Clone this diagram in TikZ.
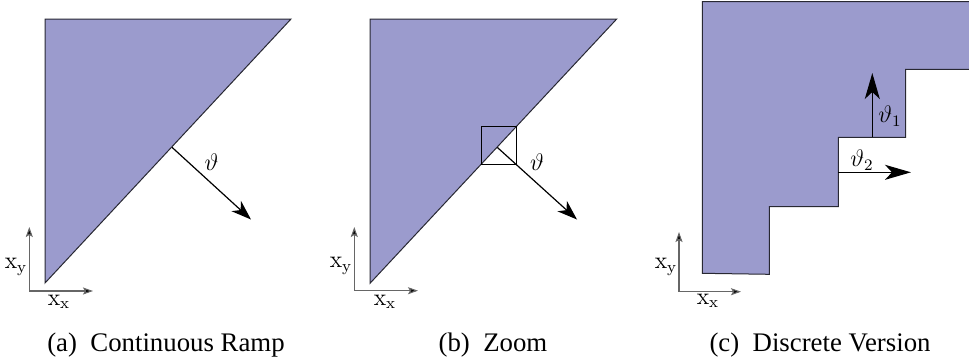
\documentclass[tikz,border=0pt]{standalone}
\usepackage{fontspec}
\newfontfamily\capfont{Liberation Serif}
\usetikzlibrary{arrows.meta}
\definecolor{rampfill}{RGB}{155,155,205}
\definecolor{edgecol}{RGB}{40,40,50}
\tikzset{
  region/.style={fill=rampfill,draw=edgecol,line width=0.5pt,line join=miter},
  axisline/.style={draw=black!60,line width=0.55pt,-{Stealth[length=5pt,width=3.5pt,inset=1pt,fill=black]}},
  thetaarrow/.style={draw=black,line width=0.6pt,-{Stealth[length=10pt,width=7pt,inset=3pt]}},
  thetaarrowc/.style={draw=black,line width=0.8pt,-{Stealth[length=13pt,width=7.5pt,inset=3.5pt]}},
  mlabel/.style={inner sep=0pt,font=\fontsize{12}{14}\selectfont},
  caption/.style={inner sep=0pt,anchor=base,font=\capfont\fontsize{13.4}{16}\selectfont},
  zoombox/.style={draw=black,line width=0.5pt}
}
\begin{document}
\begin{tikzpicture}[x=0.5pt,y=-0.5pt]
\useasboundingbox (0,0) rectangle (969,360);
% ---------- (a) ----------
\coordinate (aTL) at (45,19);
\coordinate (aTR) at (291,19);
\coordinate (aB) at (45,283);
\path[region] (aTL) -- (aTR) -- (aB) -- cycle;
\coordinate (aS) at (172,147.3);
\coordinate (aE) at (251,219.5);
\draw[thetaarrow] (aS) -- (aE);
\node[mlabel] (aTh) at (211.5,162.5) {$\vartheta$};
\coordinate (aO) at (29.3,291);
\coordinate (aY) at (29.3,227);
\coordinate (aX) at (93,291);
\draw[axisline] (aO) -- (aY);
\draw[axisline] (aO) -- (aX);
\node[mlabel] (aXy) at (16,267) {$\mathrm{x}_\mathrm{y}$};
\node[mlabel] (aXx) at (59,302) {$\mathrm{x}_\mathrm{x}$};
\node[caption] (capa) at (166,351) {(a)\ \ Continuous Ramp};
% ---------- (b) ----------
\coordinate (bTL) at (370,19);
\coordinate (bTR) at (616.7,19);
\coordinate (bB) at (370,283.3);
\path[region] (bTL) -- (bTR) -- (bB) -- cycle;
\coordinate (bS) at (497.2,147.3);
\coordinate (bE) at (577,219.5);
\draw[zoombox] (481.7,126.7) rectangle (516,164);
\draw[thetaarrow] (bS) -- (bE);
\node[mlabel] (bTh) at (537,161.7) {$\vartheta$};
\coordinate (bO) at (354.3,290.7);
\coordinate (bY) at (354.3,227);
\coordinate (bX) at (418,290.7);
\draw[axisline] (bO) -- (bY);
\draw[axisline] (bO) -- (bX);
\node[mlabel] (bXy) at (341,266) {$\mathrm{x}_\mathrm{y}$};
\node[mlabel] (bXx) at (385,302) {$\mathrm{x}_\mathrm{x}$};
\node[caption] (capb) at (493,351) {(b)\ \ Zoom};
% ---------- (c) ----------
\path[region] (702.3,1.7) -- (975,1.7) -- (975,69.3) -- (905.7,69.3) -- (905.7,137.3)
  -- (838.3,137.3) -- (838.3,206.7) -- (769.3,206.7) -- (769.3,274.3) -- (702.3,273.3) -- cycle;
\coordinate (c1S) at (872.3,137.3);
\coordinate (c1E) at (872.3,73);
\draw[thetaarrowc] (c1S) -- (c1E);
\node[mlabel] (cTh1) at (890,116) {$\vartheta_1$};
\coordinate (c2S) at (838.3,172.3);
\coordinate (c2E) at (911,172.3);
\draw[thetaarrowc] (c2S) -- (c2E);
\node[mlabel] (cTh2) at (862,160) {$\vartheta_2$};
\coordinate (cO) at (679,291.7);
\coordinate (cY) at (679,232);
\coordinate (cX) at (741,291.7);
\draw[axisline] (cO) -- (cY);
\draw[axisline] (cO) -- (cX);
\node[mlabel] (cXy) at (666,267) {$\mathrm{x}_\mathrm{y}$};
\node[mlabel] (cXx) at (708,301) {$\mathrm{x}_\mathrm{x}$};
\node[caption] (capc) at (820,351) {(c)\ \ Discrete Version};
\end{tikzpicture}
\end{document}
